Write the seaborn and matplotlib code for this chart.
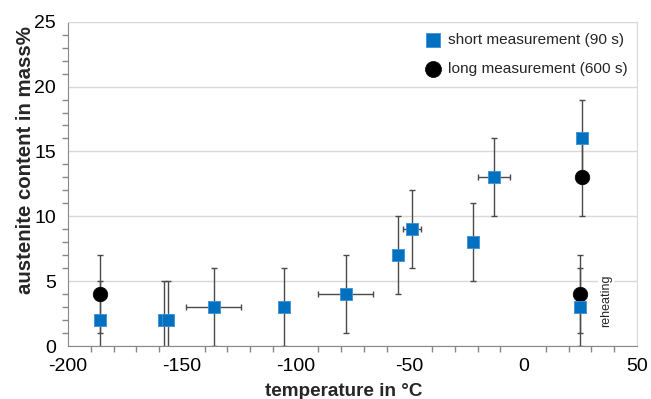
import pandas as pd
import seaborn as sns
import matplotlib.pyplot as plt
from matplotlib.ticker import MultipleLocator

# short measurement (90 s)
short_temp = [-186, -158, -156, -136, -105, -78, -55, -49, -22, -13, 26, 25]
short_val = [2, 2, 2, 3, 3, 4, 7, 9, 8, 13, 16, 3]
short_yerr = [3, 3, 3, 3, 3, 3, 3, 3, 3, 3, 3, 3]
short_xerr = [0, 0, 0, 12, 0, 12, 0, 4, 0, 7, 0, 0]

# long measurement (600 s)
long_temp = [-186, 26, 25]
long_val = [4, 13, 4]
long_yerr = [3, 3, 3]

short = pd.DataFrame({"temp": short_temp, "val": short_val,
                      "yerr": short_yerr, "xerr": short_xerr})
long = pd.DataFrame({"temp": long_temp, "val": long_val, "yerr": long_yerr})

sns.set_style("white")
plt.rcParams['font.family'] = ['Liberation Sans', 'DejaVu Sans']
plt.rcParams['axes.unicode_minus'] = False

blue = '#0070C0'
ecol = '#4a4a4a'

fig, ax = plt.subplots(figsize=(6.51, 3.99), dpi=100)
fig.subplots_adjust(left=0.1045, right=0.9785, bottom=0.1328, top=0.9456)

# error bars
ax.errorbar(short["temp"], short["val"], yerr=short["yerr"], fmt='none',
            ecolor=ecol, elinewidth=1.0, capsize=2.5, capthick=1.0, zorder=2)
sx = short[short["xerr"] > 0]
ax.errorbar(sx["temp"], sx["val"], xerr=sx["xerr"], fmt='none',
            ecolor=ecol, elinewidth=1.0, capsize=2.5, capthick=1.0, zorder=2)
ax.errorbar(long["temp"], long["val"], yerr=long["yerr"], fmt='none',
            ecolor=ecol, elinewidth=1.0, capsize=2.5, capthick=1.0, zorder=2)

# markers
sns.scatterplot(data=long, x="temp", y="val", marker='o', s=110, color='black',
                edgecolor='black', linewidth=0.5, zorder=3, ax=ax,
                label='long measurement (600 s)')
sns.scatterplot(data=short, x="temp", y="val", marker='s', s=80, color=blue,
                edgecolor='#3d8fd0', linewidth=0.6, zorder=4, ax=ax,
                label='short measurement (90 s)')

ax.text(36.5, 3.5, 'reheating', rotation=90, ha='center', va='center', fontsize=9,
        bbox=dict(facecolor='white', edgecolor='none', pad=1.5), zorder=1.5)

ax.set_xlim(-200, 50)
ax.set_ylim(0, 25)
ax.xaxis.set_major_locator(MultipleLocator(50))
ax.xaxis.set_minor_locator(MultipleLocator(10))
ax.yaxis.set_major_locator(MultipleLocator(5))
ax.yaxis.set_minor_locator(MultipleLocator(1))
ax.yaxis.grid(True, which='major', color='#d9d9d9', linewidth=1.0)
ax.set_axisbelow(True)
ax.tick_params(which='both', direction='out', colors='#888888', labelcolor='black',
               labelsize=14, width=1.0)
ax.tick_params(which='major', length=5)
ax.tick_params(which='minor', length=4, bottom=True, left=True)
for side in ['left', 'bottom']:
    ax.spines[side].set_color('#888888')
for side in ['top', 'right']:
    ax.spines[side].set_color('#d9d9d9')

ax.set_xlabel('temperature in °C', fontsize=13.6, fontweight='bold')
ax.set_ylabel('austenite content in mass%', fontsize=14.7, fontweight='bold')
ax.xaxis.set_label_coords(0.484, -0.114)
ax.yaxis.set_label_coords(-0.058, 0.5735)

h, l = ax.get_legend_handles_labels()
leg = ax.legend(h[::-1], l[::-1], loc='upper right', bbox_to_anchor=(0.983, 0.964),
                frameon=False, fontsize=11.1, labelspacing=0.95, handlelength=1.0,
                handletextpad=0.45, borderpad=0, borderaxespad=0, markerscale=1.1)

fig.savefig('out.png', dpi=100)
